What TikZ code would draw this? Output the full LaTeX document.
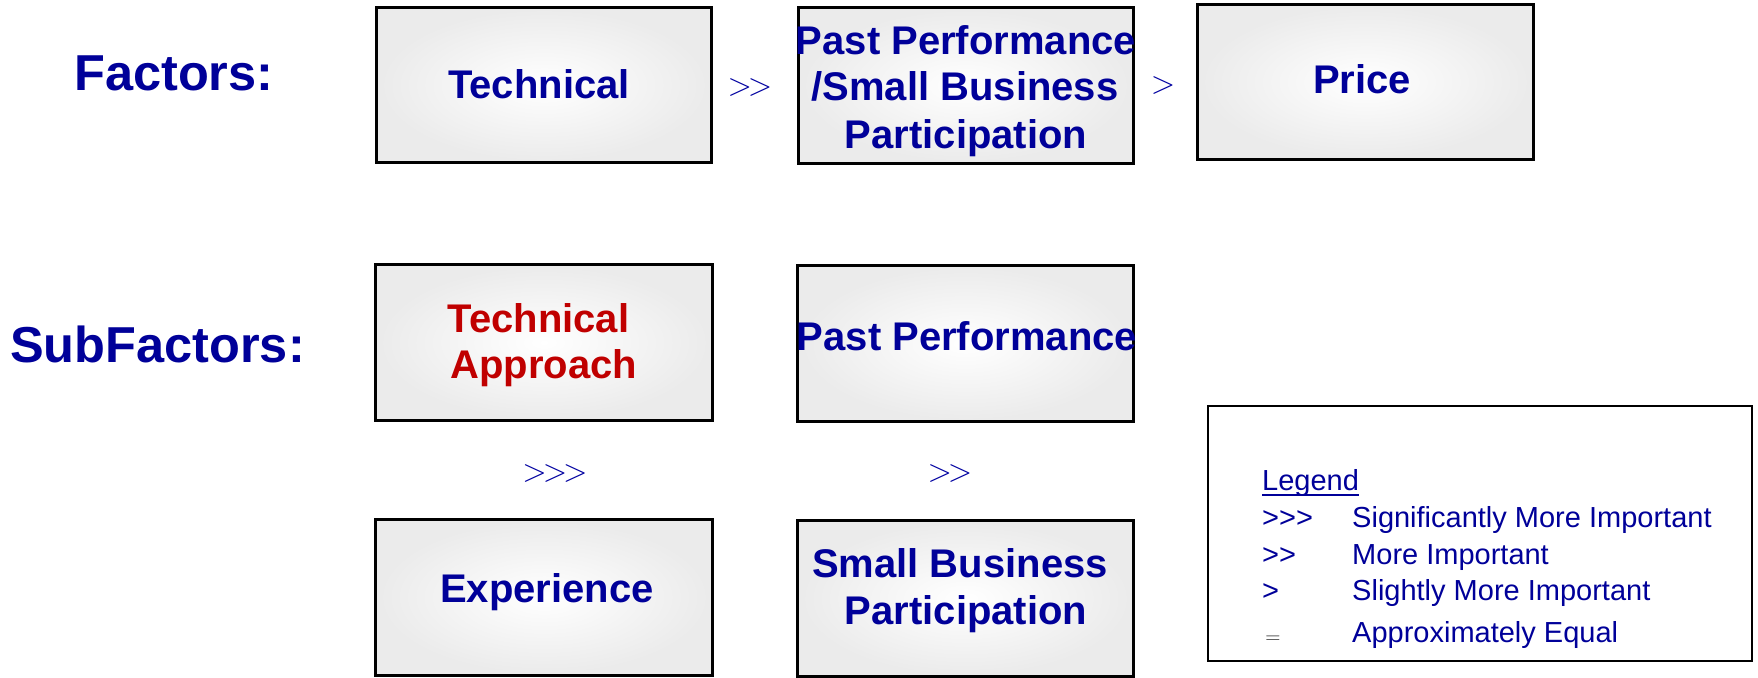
\RequirePackage{fix-cm}
\documentclass[tikz,border=0pt]{standalone}
\usepackage{fontspec}
\setmainfont{Liberation Sans}
\definecolor{fblue}{RGB}{0,0,153}
\definecolor{oblue}{RGB}{0,0,160}
\definecolor{fred}{RGB}{192,0,0}
\newcommand{\gtk}{\kern-4pt}
\begin{document}
\begin{tikzpicture}[x=1pt,y=-1pt,
  box/.style={draw=black, line width=3pt, inner color=white, outer color=black!8,
              minimum width=335pt, minimum height=155pt, inner sep=0pt},
  btxt/.style={anchor=base, inner sep=0pt, text=fblue, font=\fontsize{40}{48}\selectfont\bfseries},
  rtxt/.style={btxt, text=fred},
  htxt/.style={anchor=base west, inner sep=0pt, text=fblue, font=\fontsize{50.5}{60}\selectfont\bfseries},
  optxt/.style={anchor=base, inner sep=0pt, text=oblue, font=\fontsize{32}{38}\selectfont},
  ltxt/.style={anchor=base west, inner sep=0pt, text=fblue, font=\fontsize{29}{34}\selectfont},
  legbox/.style={draw=black, line width=1.5pt, minimum width=544pt, minimum height=255pt, inner sep=0pt}
]
\useasboundingbox (0,0) rectangle (1758,677);

% headings
\node[htxt] (hf) at (74,90) {Factors:};
\node[htxt] (hs) at (10,362) {SubFactors:};

% factor boxes
\node[box] (tech) at (544,85) {};
\node[box] (pps) at (966,85.5) {};
\node[box, minimum width=336pt] (price) at (1365.5,82) {};
\node[btxt] (techT) at (539,99) {Technical};
\node[btxt] (ppsA) at (966,55) {Past Performance};
\node[btxt] (ppsB) at (965,100) {/Small Business};
\node[btxt] (ppsC) at (966,148) {Participation};
\node[btxt] (priceT) at (1362,93) {Price};

% subfactor boxes
\node[box, minimum width=337pt, minimum height=156pt] (ta) at (544,342.5) {};
\node[box, minimum width=336pt, minimum height=156pt] (pp) at (965.5,343.5) {};
\node[box, minimum width=337pt, minimum height=156pt] (exp) at (544,597) {};
\node[box, minimum width=336pt, minimum height=156pt] (sbp) at (965.5,598.5) {};
\node[rtxt] (taA) at (538.5,332) {Technical};
\node[rtxt] (taB) at (544,378) {Approach};
\node[btxt] (ppT) at (967,350) {Past Performance};
\node[btxt] (expT) at (547,602) {Experience};
\node[btxt] (sbpA) at (960,577) {Small Business};
\node[btxt] (sbpB) at (966,624) {Participation};

% operators
\node[optxt] (op1) at (750,95) {$>$\gtk$>$};
\node[optxt] (op2) at (1163,93.5) {$>$};
\node[optxt] (op3) at (555,481) {$>$\gtk$>$\gtk$>$};
\node[optxt] (op4) at (950,481) {$>$\gtk$>$};

% legend
\node[legbox] (legend) at (1480,533.5) {};
\node[ltxt] (lg) at (1262,490) {Legend};
\draw[fblue, line width=2pt] ([yshift=-4.5pt]lg.base west) -- ([yshift=-4.5pt]lg.base east);
\node[ltxt] (s1) at (1262,527) {>{}>{}>};
\node[ltxt] (s2) at (1262,564) {>{}>};
\node[ltxt] (s3) at (1262,600) {>};
\node[anchor=base, inner sep=0pt, text=black!85, font=\fontsize{21}{25}\selectfont] (s4) at (1273,643) {$=$};
\node[ltxt] (d1) at (1352,527) {Significantly More Important};
\node[ltxt] (d2) at (1352,564) {More Important};
\node[ltxt] (d3) at (1352,600) {Slightly More Important};
\node[ltxt] (d4) at (1352,642) {Approximately Equal};
\end{tikzpicture}
\end{document}
